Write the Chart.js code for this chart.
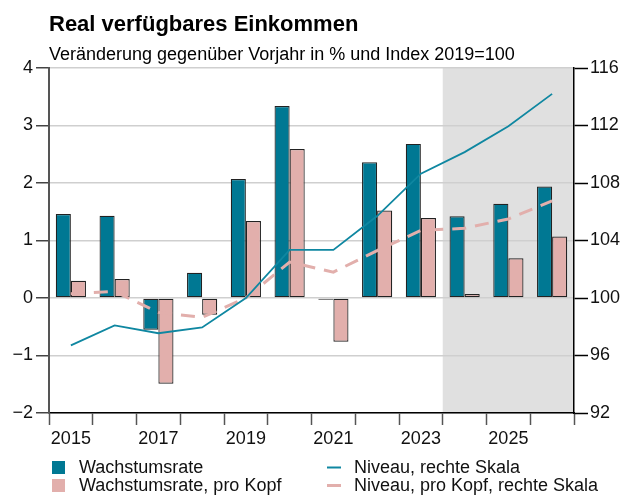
<!DOCTYPE html>
<html>
<head>
    <meta charset='utf-8'>
    <title>Real verfügbares Einkommen</title>
    <script src="https://cdn.jsdelivr.net/npm/chart.js"></script>
    <style>
        body { margin: 0; background: #fff; }
    </style>
</head>
<body>
    <canvas id="myChart" width="634" height="496"></canvas>
    <script>

        var years = ['2015', '2016', '2017', '2018', '2019', '2020', '2021', '2022', '2023', '2024', '2025', '2026'];
        var wachstum = [1.46, 1.43, -0.55, 0.44, 2.07, 3.34, -0.03, 2.36, 2.68, 1.42, 1.64, 1.94];
        var wachstumKopf = [0.30, 0.33, -1.49, -0.29, 1.34, 2.59, -0.76, 1.52, 1.39, 0.07, 0.69, 1.07];
        var niveau = [96.7, 98.1, 97.55, 97.95, 100.0, 103.35, 103.35, 105.7, 108.65, 110.15, 111.95, 114.2];
        var niveauKopf = [100.3, 100.45, 99.0, 98.65, 100.0, 102.5, 101.8, 103.3, 104.7, 104.85, 105.5, 106.75];
        var forecastStart = 9; // 2024 onwards is forecast

        const FONT = '"Liberation Sans", Arial, sans-serif';
        const TEAL = '#007893';
        const TEAL_LINE = '#0f87a1';
        const PINK = '#e2afac';

        const ctx = document.getElementById('myChart').getContext('2d');

        // grey background for the forecast years
        const forecastShade = {
            id: 'forecastShade',
            beforeDraw(chart) {
                const x = chart.scales.x;
                const area = chart.chartArea;
                const half = (x.getPixelForValue(1) - x.getPixelForValue(0)) / 2;
                const left = x.getPixelForValue(forecastStart) - half;
                const c = chart.ctx;
                c.save();
                c.fillStyle = '#e0e0e0';
                c.fillRect(left, area.top, area.right - left, area.bottom - area.top);
                c.restore();
            }
        };

        // title, subtitle and the two-column legend
        const texts = {
            id: 'texts',
            afterDraw(chart) {
                const c = chart.ctx;
                c.save();
                c.fillStyle = '#000';
                c.textBaseline = 'alphabetic';
                c.font = 'bold 22px ' + FONT;
                c.fillText('Real verfügbares Einkommen', 49, 31);
                c.font = '18px ' + FONT;
                c.fillText('Veränderung gegenüber Vorjahr in % und Index 2019=100', 49, 60);

                c.textBaseline = 'middle';
                c.font = '18px ' + FONT;
                // bars
                c.fillStyle = TEAL;
                c.fillRect(52, 461, 13, 13);
                c.fillStyle = PINK;
                c.fillRect(52, 479, 13, 13);
                c.fillStyle = '#111';
                c.fillText(chart.data.datasets[0].label, 79, 468);
                c.fillText(chart.data.datasets[1].label, 79, 486);
                // lines
                c.lineWidth = 2;
                c.strokeStyle = TEAL_LINE;
                c.beginPath(); c.moveTo(327, 467.5); c.lineTo(341, 467.5); c.stroke();
                c.lineWidth = 3;
                c.strokeStyle = PINK;
                c.beginPath(); c.moveTo(327, 485.5); c.lineTo(341, 485.5); c.stroke();
                c.fillText(chart.data.datasets[2].label, 354, 468);
                c.fillText(chart.data.datasets[3].label, 354, 486);
                c.restore();
            }
        };

        const config = {
            type: 'bar',
            data: {
                labels: years,
                datasets: [{
                    label: 'Wachstumsrate',
                    data: wachstum,
                    backgroundColor: TEAL,
                    borderColor: '#222',
                    borderWidth: 1.2,
                    borderSkipped: false,
                    inflateAmount: 0,
                    yAxisID: 'y',
                    order: 2,
                }, {
                    label: 'Wachstumsrate, pro Kopf',
                    data: wachstumKopf,
                    backgroundColor: PINK,
                    borderColor: '#222',
                    borderWidth: 1.2,
                    borderSkipped: false,
                    inflateAmount: 0,
                    yAxisID: 'y',
                    order: 2,
                }, {
                    type: 'line',
                    label: 'Niveau, rechte Skala',
                    data: niveau,
                    borderColor: TEAL_LINE,
                    borderWidth: 1.8,
                    pointRadius: 0,
                    tension: 0,
                    yAxisID: 'y1',
                    order: 1,
                }, {
                    type: 'line',
                    label: 'Niveau, pro Kopf, rechte Skala',
                    data: niveauKopf,
                    borderColor: PINK,
                    borderWidth: 3,
                    borderDash: [14, 9],
                    pointRadius: 0,
                    tension: 0,
                    yAxisID: 'y1',
                    order: 1,
                }]
            },
            options: {
                responsive: false,
                animation: false,
                layout: {
                    padding: { top: 68, left: 0, right: 0, bottom: 0 }
                },
                datasets: {
                    bar: { categoryPercentage: 0.69, barPercentage: 1.0 }
                },
                plugins: {
                    legend: { display: false },
                    tooltip: { enabled: false },
                },
                scales: {
                    x: {
                        offset: true,
                        grid: {
                            offset: true,
                            drawOnChartArea: false,
                            tickLength: 12,
                            tickColor: '#555',
                            tickWidth: 1.5,
                        },
                        border: { color: '#000', width: 1.5 },
                        ticks: {
                            autoSkip: false,
                            maxRotation: 0,
                            padding: 3,
                            color: '#111',
                            font: { family: FONT, size: 18 },
                            callback: function(v, i) { return i % 2 === 0 ? years[i] : ''; }
                        },
                        afterFit: function(s) { s.height = 83; }
                    },
                    y: {
                        position: 'left',
                        min: -2,
                        max: 4,
                        grid: {
                            color: '#cfcfcf',
                            lineWidth: 1.5,
                            tickLength: 13,
                            tickColor: '#444',
                            tickWidth: 1.5,
                        },
                        border: { color: '#555', width: 2 },
                        ticks: {
                            stepSize: 1,
                            padding: 3,
                            color: '#111',
                            font: { family: FONT, size: 18 },
                            callback: function(v) { return v < 0 ? '\u2212' + Math.abs(v) : v; }
                        },
                        afterFit: function(s) { s.width = 49; }
                    },
                    y1: {
                        position: 'right',
                        min: 92,
                        max: 116,
                        grid: {
                            drawOnChartArea: false,
                            tickLength: 14,
                            tickColor: '#000',
                            tickWidth: 1.5,
                        },
                        border: { color: '#000', width: 1.5 },
                        ticks: {
                            stepSize: 4,
                            padding: 2,
                            color: '#111',
                            font: { family: FONT, size: 18 },
                        },
                        afterFit: function(s) { s.width = 60; }
                    }
                }
            },
            plugins: [forecastShade, texts]
        };

        const myChart = new Chart(ctx, config);

    </script>
</body>
</html>
